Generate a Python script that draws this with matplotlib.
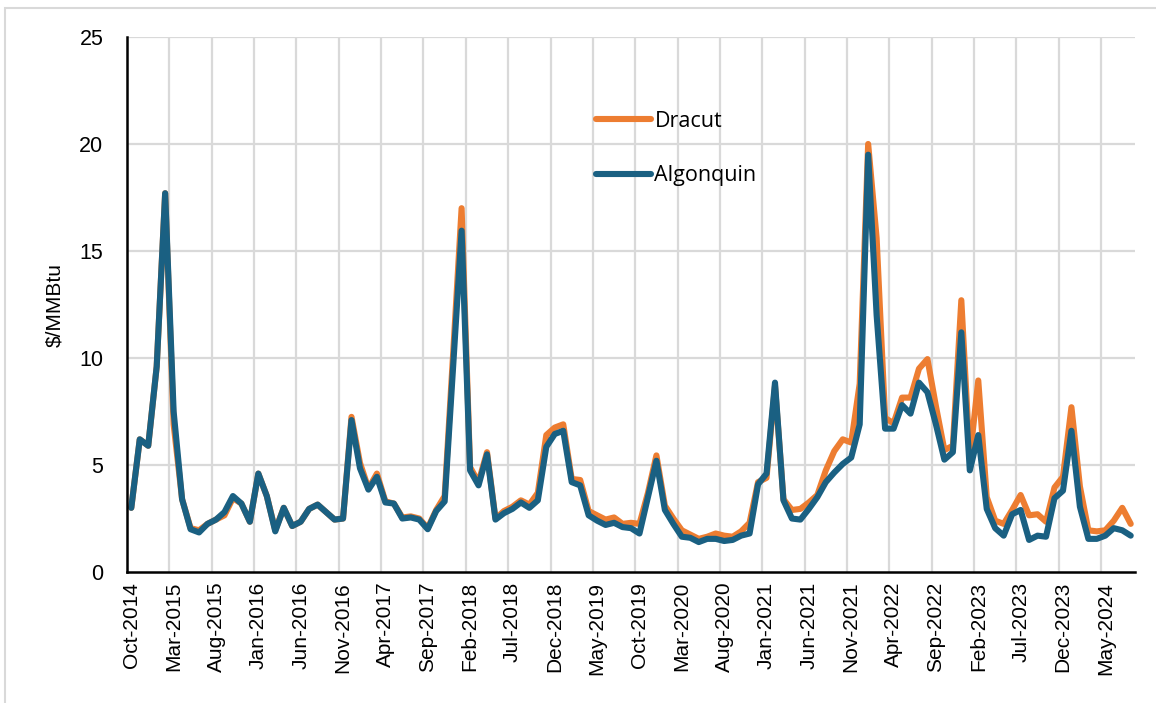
import matplotlib
matplotlib.use("Agg")
import matplotlib.pyplot as plt
import numpy as np
from matplotlib.patches import Rectangle

# monthly prices, Oct-2014 .. Aug-2024 ($/MMBtu)
algonquin = [
    3.0, 6.2, 5.9, 9.6, 17.7, 7.5, 3.4, 2.0, 1.85, 2.25,
    2.45, 2.8, 3.55, 3.2, 2.35, 4.6, 3.55, 1.9, 3.0, 2.15,
    2.35, 2.95, 3.15, 2.8, 2.45, 2.5, 7.1, 4.85, 3.85, 4.45,
    3.25, 3.2, 2.5, 2.55, 2.45, 2.0, 2.85, 3.3, 9.6, 15.95,
    4.75, 4.05, 5.5, 2.45, 2.75, 2.95, 3.25, 3.0, 3.35, 5.85,
    6.45, 6.6, 4.2, 4.05, 2.65, 2.4, 2.2, 2.3, 2.1, 2.05,
    1.8, 3.5, 5.2, 2.9, 2.25, 1.65, 1.6, 1.4, 1.55, 1.55,
    1.45, 1.5, 1.7, 1.8, 4.1, 4.6, 8.85, 3.35, 2.5, 2.45,
    2.95, 3.5, 4.2, 4.65, 5.05, 5.35, 6.9, 19.5, 12.0, 6.7,
    6.7, 7.8, 7.4, 8.85, 8.4, 6.9, 5.25, 5.6, 11.2, 4.75,
    6.4, 2.95, 2.05, 1.7, 2.7, 2.9, 1.5, 1.7, 1.65, 3.45,
    3.8, 6.6, 3.05, 1.55, 1.55, 1.7, 2.05, 1.95, 1.7,
]
dracut = [
    3.0, 6.2, 5.9, 9.6, 17.7, 6.9, 3.4, 2.05, 1.95, 2.25,
    2.45, 2.65, 3.45, 3.2, 2.35, 4.6, 3.55, 1.95, 3.0, 2.15,
    2.35, 2.95, 3.15, 2.8, 2.45, 2.5, 7.25, 5.1, 3.9, 4.6,
    3.3, 3.2, 2.55, 2.6, 2.5, 2.05, 2.9, 3.55, 10.2, 17.0,
    4.9, 4.2, 5.6, 2.5, 2.85, 3.05, 3.35, 3.15, 3.7, 6.4,
    6.75, 6.9, 4.35, 4.3, 2.85, 2.65, 2.45, 2.55, 2.25, 2.3,
    2.25, 3.7, 5.45, 3.1, 2.5, 1.95, 1.75, 1.55, 1.65, 1.8,
    1.7, 1.65, 1.9, 2.3, 4.2, 4.4, 8.7, 3.4, 2.9, 2.95,
    3.25, 3.6, 4.75, 5.65, 6.2, 6.05, 8.8, 20.0, 15.6, 7.2,
    6.95, 8.15, 8.15, 9.5, 9.95, 7.75, 5.7, 5.9, 12.7, 5.3,
    8.95, 3.5, 2.4, 2.25, 2.9, 3.6, 2.65, 2.7, 2.35, 3.95,
    4.45, 7.7, 4.0, 1.95, 1.9, 1.95, 2.4, 3.0, 2.25,
]
months = ["Jan", "Feb", "Mar", "Apr", "May", "Jun",
          "Jul", "Aug", "Sep", "Oct", "Nov", "Dec"]

n = len(algonquin)
labels = []
for i in range(n):
    m = 9 + i  # Oct-2014 is month index 9 of 2014
    labels.append(f"{months[m % 12]}-{2014 + m // 12}")

x = np.arange(n)

fig = plt.figure(figsize=(11.56, 7.03), dpi=100)
ax = fig.add_axes([0.1099, 0.1863, 0.8719, 0.7611])

ax.plot(x, dracut, color="#ED7D31", linewidth=4.4, label="Dracut",
        solid_joinstyle="round", solid_capstyle="round")
ax.plot(x, algonquin, color="#1A6082", linewidth=4.4, label="Algonquin",
        solid_joinstyle="round", solid_capstyle="round")

ax.set_xlim(-0.5, n - 0.5)
ax.set_ylim(0, 25)
ax.set_yticks([0, 5, 10, 15, 20, 25])

# category gridlines every 5 months, labels on category centres
for b in np.arange(4.5, n - 1, 5):
    ax.axvline(b, color="#D9D9D9", linewidth=1.6, zorder=0)
for yv in [5, 10, 15, 20, 25]:
    ax.axhline(yv, color="#D9D9D9", linewidth=1.6, zorder=0)

tick_pos = x[::5]
ax.set_xticks(tick_pos)
ax.set_xticklabels([labels[i] for i in tick_pos], rotation=90,
                   family="Liberation Sans", fontsize=15)
for t in ax.get_yticklabels():
    t.set_family("Liberation Sans")
    t.set_fontsize(15.5)
ax.tick_params(axis="both", length=0)
ax.tick_params(axis="x", pad=7)
ax.tick_params(axis="y", pad=17)

for s in ["top", "right"]:
    ax.spines[s].set_visible(False)
ax.spines["left"].set_linewidth(1.8)
ax.spines["bottom"].set_linewidth(1.8)

ax.set_ylabel("$/MMBtu", family="Liberation Sans", fontsize=15, labelpad=11)

leg = ax.legend(loc="upper left", bbox_to_anchor=(0.457, 0.878), frameon=False,
                prop={"family": "Open Sans", "size": 15.5}, handlelength=2.55,
                labelspacing=1.55, handletextpad=0.15, borderaxespad=0)

fig.patches.append(Rectangle((5 / 1156, -0.1), 1.2, 1 - 8 / 703 + 0.1,
                             transform=fig.transFigure, fill=False,
                             edgecolor="#D9D9D9", linewidth=1.5))

fig.savefig("out.png", dpi=100)
